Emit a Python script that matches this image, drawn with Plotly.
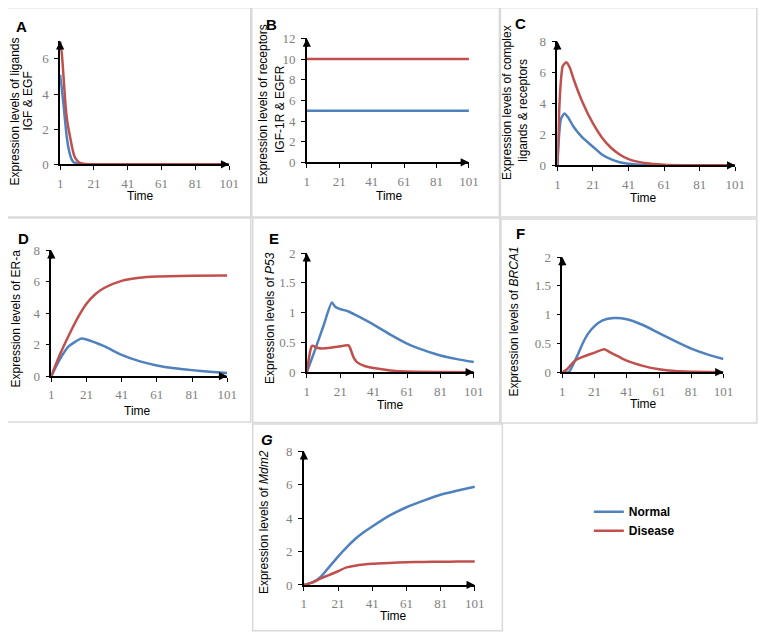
import plotly.graph_objects as go

# ---------------- data ----------------
xticks = [1, 21, 41, 61, 81, 101]

tA = [1, 2, 3, 4, 5, 6, 7, 8, 9, 10, 12, 15, 20, 30, 101]
A_normal = [5.1, 4.3, 3.4, 2.4, 1.5, 0.9, 0.5, 0.25, 0.12, 0.08, 0.02, 0.0, 0.0, 0.0, 0.0]
A_disease = [7.0, 6.3, 5.0, 3.6, 2.6, 2.0, 1.5, 1.0, 0.6, 0.35, 0.12, 0.03, 0.0, 0.0, 0.0]

tB = [1, 101]
B_normal = [5, 5]
B_disease = [10, 10]

tC_n = [1, 2, 3, 5, 7, 10, 15, 21, 26, 31, 36, 41, 51, 61, 101]
C_normal = [0, 2.0, 3.0, 3.35, 3.1, 2.5, 1.8, 1.2, 0.7, 0.4, 0.2, 0.1, 0.02, 0, 0]
tC_d = [1, 2, 3, 4, 6, 8, 10, 15, 21, 26, 31, 36, 41, 51, 61, 71, 101]
C_disease = [0, 3.5, 5.5, 6.4, 6.65, 6.3, 5.6, 4.1, 2.7, 1.8, 1.15, 0.7, 0.4, 0.13, 0.04, 0.01, 0]

tD_n = [1, 6, 11, 18, 21, 31, 41, 51, 61, 71, 81, 91, 101]
D_normal = [0, 1.1, 1.9, 2.38, 2.33, 1.9, 1.35, 0.95, 0.68, 0.5, 0.38, 0.28, 0.2]
tD_d = [1, 6, 11, 16, 21, 26, 31, 41, 51, 61, 81, 101]
D_disease = [0, 1.4, 2.6, 3.7, 4.6, 5.2, 5.6, 6.05, 6.25, 6.33, 6.38, 6.4]

tE_n = [1, 6, 11, 16, 18, 21, 26, 31, 41, 51, 61, 71, 81, 91, 101]
E_normal = [0, 0.38, 0.78, 1.17, 1.1, 1.06, 1.02, 0.95, 0.8, 0.63, 0.48, 0.37, 0.28, 0.22, 0.17]
tE_d = [1, 3, 4, 5, 7, 10, 15, 20, 26, 27, 29, 31, 36, 41, 51, 61, 101]
E_disease = [0, 0.35, 0.44, 0.44, 0.41, 0.4, 0.41, 0.43, 0.45, 0.4, 0.25, 0.17, 0.1, 0.07, 0.03, 0.01, 0]

tF_n = [1, 5, 8, 11, 14, 17, 21, 26, 33, 41, 51, 61, 71, 81, 91, 101]
F_normal = [0, 0, 0.15, 0.33, 0.52, 0.67, 0.8, 0.9, 0.94, 0.92, 0.82, 0.68, 0.54, 0.41, 0.31, 0.23]
tF_d = [1, 4, 7, 10, 14, 21, 27, 31, 36, 41, 51, 61, 71, 81, 101]
F_disease = [0, 0.05, 0.15, 0.22, 0.27, 0.34, 0.4, 0.34, 0.27, 0.2, 0.11, 0.05, 0.02, 0.01, 0]

tG = [1, 6, 11, 16, 21, 26, 31, 36, 41, 51, 61, 71, 81, 91, 101]
G_normal = [0, 0.15, 0.5, 1.1, 1.7, 2.25, 2.75, 3.15, 3.5, 4.15, 4.65, 5.05, 5.4, 5.65, 5.88]
G_disease = [0, 0.15, 0.4, 0.6, 0.82, 1.05, 1.15, 1.22, 1.27, 1.32, 1.36, 1.38, 1.39, 1.4, 1.4]

series_names = ["Normal", "Disease"]
colors = ["#4F81BD", "#C0504D"]

# ---------------- layout helpers ----------------
# The page keeps the browser's default 8px body margin, so the figure is
# 16px smaller than the window and every page position is shifted by 8px.
PAGE_MARGIN = 8
W, H = 768 - 2 * PAGE_MARGIN, 640 - 2 * PAGE_MARGIN
def px(x):
    return (x - PAGE_MARGIN) / W
def py(y):
    return 1 - (y - PAGE_MARGIN) / H

panels = [
    dict(letter="A", tn=tA, n=A_normal, td=tA, d=A_disease, ymax=7, dtick=2,
         x0=58, x1=230, y0=161, y1=35, lpos=(19, 20),
         ytitles=[("Expression levels of ligands", 12, 107), ("IGF & EGF", 25, 96)], time=(140, 193)),
    dict(letter="B", tn=tB, n=B_normal, td=tB, d=B_disease, ymax=12, dtick=2,
         x0=309, x1=474, y0=159, y1=32, lpos=(273, 18),
         ytitles=[("Expression levels of receptors", 264, 100), ("IGF-1R & EGFR", 281, 104)], time=(393, 193)),
    dict(letter="C", tn=tC_n, n=C_normal, td=tC_d, d=C_disease, ymax=8, dtick=2,
         x0=564, x1=745, y0=162, y1=35, lpos=(526, 17),
         ytitles=[("Expression levels of complex", 513, 98), ("ligands & receptors", 529, 105)], time=(652, 195)),
    dict(letter="D", tn=tD_n, n=D_normal, td=tD_d, d=D_disease, ymax=8, dtick=2,
         x0=49, x1=228, y0=378, y1=249, lpos=(21, 237),
         ytitles=[("Expression levels of ER-a", 13, 319)], time=(137, 414)),
    dict(letter="E", tn=tE_n, n=E_normal, td=tE_d, d=E_disease, ymax=2, dtick=0.5,
         x0=309, x1=479, y0=374, y1=252, lpos=(276, 237),
         ytitles=[("Expression levels of <i>P53</i>", 271, 318)], time=(394, 408)),
    dict(letter="F", tn=tF_n, n=F_normal, td=tF_d, d=F_disease, ymax=2, dtick=0.5,
         x0=569, x1=733, y0=374, y1=256, lpos=(526, 232),
         ytitles=[("Expression levels of <i>BRCA1</i>", 520, 322)], time=(652, 407)),
    dict(letter="G", tn=tG, n=G_normal, td=tG, d=G_disease, ymax=8, dtick=2,
         x0=306, x1=480, y0=592, y1=455, lpos=(268, 443),
         ytitles=[("Expression levels of <i>Mdm2</i>", 265, 528)], time=(397, 624)),
]

boxes = [
    (0.5, 0.5, 252, 215), (253, 0.5, 505, 215), (506, 0.5, 767, 215),
    (0.5, 216, 252, 425), (254, 216, 505.5, 425.5), (506.5, 217, 767, 426),
    (254, 427, 508, 639),
]

fig = go.Figure()
annotations = []
shapes = []
title_font = dict(family="Liberation Sans, Arial, sans-serif", size=12, color="black")
tick_font = dict(family="Liberation Serif, serif", size=13, color="#808080")

for (bx0, by0, bx1, by1) in boxes:
    shapes.append(dict(type="rect", xref="paper", yref="paper",
                       x0=px(bx0), x1=px(bx1), y0=py(by1), y1=py(by0),
                       line=dict(color="#d9d9d9", width=1.5), layer="below"))

for i, p in enumerate(panels):
    k = "" if i == 0 else str(i + 1)
    xa, ya = "x" + k, "y" + k
    show = (p["letter"] == "G")
    for j, (tt, vv) in enumerate([(p["tn"], p["n"]), (p["td"], p["d"])]):
        fig.add_trace(go.Scatter(
            x=tt, y=vv, mode="lines", name=series_names[j],
            line=dict(color=colors[j], width=2.5, shape="spline", smoothing=0.6),
            xaxis=xa, yaxis=ya, showlegend=show, legendrank=j + 1,
            cliponaxis=True, hoverinfo="skip"))
    fig.layout["xaxis" + k] = dict(
        domain=[px(p["x0"]), px(p["x1"])], range=[1, 101], anchor=ya,
        tickvals=xticks, showgrid=False, zeroline=False,
        showline=True, linecolor="black", linewidth=1.5,
        ticks="outside", ticklen=4, tickcolor="black", tickwidth=1,
        tickfont=tick_font, ticklabelstandoff=2, fixedrange=True)
    fig.layout["yaxis" + k] = dict(
        domain=[py(p["y0"]), py(p["y1"])], range=[0, p["ymax"]], anchor=xa,
        tick0=0, dtick=p["dtick"], showgrid=False, zeroline=False,
        showline=True, linecolor="black", linewidth=1.5,
        ticks="outside", ticklen=4, tickcolor="black", tickwidth=1,
        tickfont=tick_font, ticklabelstandoff=3, fixedrange=True)
    annotations.append(dict(x=101, y=0, xref=xa, yref=ya, ax=-10, ay=0, text="",
                            showarrow=True, arrowhead=2, arrowsize=1.1, arrowwidth=1.5,
                            arrowcolor="black"))
    annotations.append(dict(x=1, y=p["ymax"], xref=xa, yref=ya, ax=0, ay=10, text="",
                            showarrow=True, arrowhead=2, arrowsize=1.1, arrowwidth=1.5,
                            arrowcolor="black"))
    lx, ly = p["lpos"]
    annotations.append(dict(x=px(lx), y=py(ly), xref="paper", yref="paper",
                            text="<i><b>G</b></i>" if p["letter"] == "G" else "<b>%s</b>" % p["letter"],
                            showarrow=False, xanchor="center", yanchor="middle",
                            font=dict(family="Liberation Sans, Arial, sans-serif", size=15, color="black")))
    for (txt, tx, ty) in p["ytitles"]:
        annotations.append(dict(x=px(tx), y=py(ty), xref="paper", yref="paper", text=txt,
                                textangle=-90, showarrow=False, xanchor="center", yanchor="middle",
                                font=title_font))
    tx, ty = p["time"]
    annotations.append(dict(x=px(tx), y=py(ty), xref="paper", yref="paper", text="Time",
                            showarrow=False, xanchor="center", yanchor="middle", font=title_font))

fig.update_layout(
    width=W, height=H, margin=dict(l=0, r=0, t=0, b=0),
    paper_bgcolor="white", plot_bgcolor="white",
    shapes=shapes, annotations=annotations,
    showlegend=True,
    legend=dict(x=px(596), y=py(502), xanchor="left", yanchor="top",
                font=dict(family="Liberation Sans, Arial, sans-serif", size=12, color="black", weight="bold"),
                bgcolor="rgba(0,0,0,0)", itemwidth=30, tracegroupgap=0, traceorder="normal"),
)

fig.write_html("out.html", config={"displayModeBar": False})
